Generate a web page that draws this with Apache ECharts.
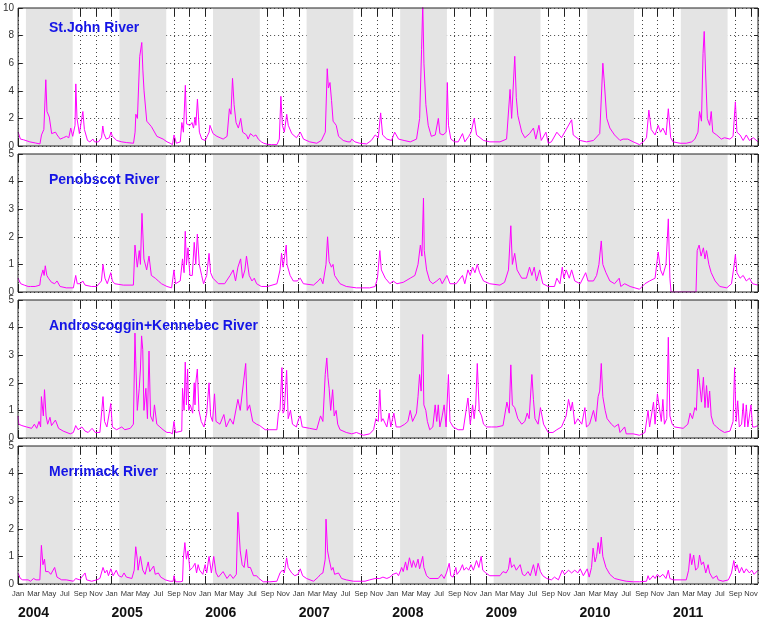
<!DOCTYPE html>
<html><head><meta charset="utf-8">
<script src="https://cdn.jsdelivr.net/npm/echarts@6/dist/echarts.min.js"></script>
<style>html,body{margin:0;padding:0;background:#fff}#c{width:764px;height:622px}</style>
</head><body><div id="c"></div>
<script>
// x values: months since 1 Jan 2004
const monthNames = ['Jan','Feb','Mar','Apr','May','Jun','Jul','Aug','Sep','Oct','Nov','Dec'];
const startYear = 2004;
const yearCount = 8;
const xMaxMonth = 94.9;
const riverNames = ['St.John River','Penobscot River','Androscoggin+Kennebec River','Merrimack River'];
const yMax = [10,5,5,5];
const yStep = [2,1,1,1];
const seasonStartMonth = 1; // Feb
const seasonEndMonth = 7;   // Aug

const stJohn = [[0,1.0],[0.3,0.5],[0.7,0.45],[1.5,0.3],[2.2,0.22],[2.8,0.15],[3.0,0.8],[3.3,1.2],[3.55,4.8],[3.7,2.5],[4.0,2.1],[4.3,0.9],[4.5,0.85],[4.8,1.0],[5.0,0.8],[5.2,0.9],[5.4,0.5],[5.8,0.6],[6.2,0.7],[6.5,0.6],[6.75,1.3],[7.0,0.7],[7.3,1.5],[7.4,4.5],[7.55,2.0],[7.86,0.9],[8.0,1.0],[8.3,2.5],[8.5,1.2],[8.9,0.4],[9.2,0.3],[9.6,0.5],[9.8,0.3],[10.3,0.3],[10.7,0.6],[10.86,1.45],[11.0,0.9],[11.3,0.5],[11.7,0.6],[11.9,1.0],[12.1,0.7],[12.65,0.4],[13.3,0.3],[13.9,0.25],[14.8,0.2],[15.0,1.0],[15.1,2.3],[15.3,2.0],[15.6,6.5],[15.86,7.5],[16.0,5.5],[16.15,4.0],[16.5,1.8],[17.1,1.4],[17.8,0.7],[18.0,0.8],[18.2,0.6],[18.6,0.5],[19.1,0.3],[19.5,0.2],[19.8,0.1],[20.0,0.8],[20.3,0.2],[20.8,0.3],[21.0,1.7],[21.2,1.0],[21.45,4.4],[21.6,1.6],[22.05,1.5],[22.3,1.7],[22.5,1.3],[22.7,2.1],[22.8,1.5],[23.0,3.4],[23.25,1.0],[23.55,0.5],[24.0,0.4],[24.5,1.0],[24.6,1.5],[25.0,0.9],[25.5,0.7],[25.9,0.6],[26.3,0.5],[26.8,0.7],[27.1,2.7],[27.3,2.3],[27.5,4.9],[27.7,3.0],[27.95,1.7],[28.25,1.3],[28.55,2.0],[28.8,1.0],[29.3,0.8],[29.5,0.5],[29.8,0.9],[30.2,0.7],[30.5,0.8],[30.8,0.5],[31.2,0.3],[31.5,0.2],[32.0,0.12],[32.5,0.1],[33.2,0.1],[33.5,0.5],[33.7,3.6],[33.9,1.5],[34.15,1.0],[34.45,2.3],[34.65,1.5],[35.1,0.9],[35.7,0.6],[36.2,1.0],[36.6,0.5],[37.4,0.3],[38.3,0.2],[38.9,0.4],[39.4,1.0],[39.65,5.6],[39.8,4.2],[40.0,4.6],[40.2,3.3],[40.4,1.8],[40.8,1.5],[41.1,0.7],[41.7,0.4],[42.3,0.3],[42.6,0.3],[42.8,0.5],[43.2,0.3],[43.8,0.2],[44.7,0.15],[45.3,0.4],[45.8,0.8],[46.2,0.6],[46.5,2.4],[46.75,0.8],[47.3,0.5],[47.9,0.4],[48.3,1.0],[48.8,0.5],[49.5,0.4],[50.3,0.3],[51.1,0.5],[51.5,2.0],[51.75,7.0],[51.9,10.3],[52.05,6.0],[52.3,3.0],[52.6,1.5],[53.0,0.7],[53.5,0.8],[53.9,2.0],[54.1,0.9],[54.5,0.8],[54.9,1.0],[55.05,4.6],[55.2,1.5],[55.5,0.5],[56.0,0.3],[56.45,0.3],[57.0,0.9],[57.3,0.3],[57.8,0.7],[58.1,1.0],[58.5,2.0],[58.8,0.8],[59.7,0.4],[60.5,0.3],[61.8,0.3],[62.65,0.5],[63.1,4.1],[63.3,2.0],[63.7,6.5],[63.9,3.5],[64.1,2.2],[64.6,1.0],[65.0,0.6],[65.6,0.9],[66.1,1.3],[66.4,0.5],[66.8,1.5],[67.1,0.4],[67.7,1.0],[68.0,0.2],[68.4,0.3],[69.1,1.0],[69.7,0.6],[70.1,1.0],[71.0,1.9],[71.2,0.8],[72.1,0.4],[72.9,0.3],[73.8,0.4],[74.6,0.9],[75.0,6.0],[75.2,4.5],[75.5,2.0],[75.9,1.3],[76.5,0.8],[77.2,0.4],[77.6,0.5],[78.2,0.5],[78.9,0.3],[79.7,0.1],[80.2,0.3],[80.6,0.6],[80.9,2.6],[81.2,1.2],[81.7,0.8],[82.1,1.5],[82.4,1.0],[82.7,1.3],[83.1,0.8],[83.4,2.7],[83.7,0.6],[84.0,0.3],[84.9,0.2],[85.7,0.2],[86.4,0.3],[86.8,0.5],[87.2,1.0],[87.4,2.5],[87.65,1.8],[87.85,6.7],[88.0,8.3],[88.2,5.0],[88.4,2.0],[88.7,1.5],[88.9,2.5],[89.1,1.0],[89.6,0.8],[90.2,0.5],[90.6,0.6],[91.3,0.5],[91.7,0.7],[92.0,3.2],[92.2,1.0],[92.6,0.8],[93.0,0.4],[93.4,0.8],[93.8,0.4],[94.3,0.6],[94.9,0.3]];

const penobscot = [[0,0.5],[0.35,0.3],[0.8,0.25],[1.3,0.2],[1.6,0.2],[2.2,0.2],[2.8,0.25],[2.9,0.5],[3.2,0.8],[3.35,0.6],[3.5,0.95],[3.7,0.6],[3.9,0.5],[4.3,0.35],[4.7,0.3],[5.0,0.4],[5.4,0.2],[6.2,0.15],[7.1,0.15],[7.4,0.6],[7.6,0.3],[8.0,0.3],[8.3,0.4],[8.6,0.25],[9.4,0.2],[10.1,0.2],[10.7,0.4],[10.9,1.0],[11.15,0.5],[11.45,0.3],[11.9,0.7],[12.1,0.4],[12.4,0.3],[13.5,0.25],[14.8,0.25],[15.0,1.7],[15.3,0.9],[15.55,1.5],[15.7,1.0],[15.9,2.85],[16.15,1.2],[16.5,0.8],[16.8,1.3],[17.1,0.6],[17.6,0.5],[18.0,0.4],[18.4,0.3],[19.1,0.2],[19.7,0.15],[20.0,0.8],[20.2,0.3],[20.8,0.4],[21.1,1.2],[21.3,0.7],[21.45,2.2],[21.6,1.0],[21.8,1.6],[22.05,0.6],[22.35,0.6],[22.6,1.8],[22.8,1.0],[23.0,2.1],[23.25,1.0],[23.55,0.6],[23.8,0.3],[24.2,0.6],[24.5,1.4],[24.7,0.7],[25.0,0.5],[25.7,0.3],[26.5,0.3],[27.2,0.6],[27.6,0.8],[27.9,0.4],[28.2,0.9],[28.55,1.2],[28.8,0.5],[29.1,0.8],[29.3,1.3],[29.65,0.6],[30.0,0.4],[30.3,0.5],[30.6,0.3],[31.2,0.2],[32.0,0.2],[33.2,0.3],[33.6,0.8],[33.8,1.4],[34.0,0.9],[34.4,1.7],[34.5,1.0],[34.9,0.6],[35.3,0.4],[35.8,0.4],[36.2,0.5],[36.6,0.3],[37.9,0.25],[38.5,0.4],[38.8,0.5],[39.1,0.3],[39.5,1.0],[39.7,2.0],[39.9,1.1],[40.2,0.9],[40.4,1.0],[40.6,0.6],[41.3,0.3],[42.1,0.2],[43.4,0.15],[45.1,0.15],[45.8,0.2],[46.1,0.5],[46.4,1.5],[46.6,0.8],[47.1,0.5],[47.7,0.3],[48.1,0.4],[48.6,0.3],[49.4,0.35],[50.3,0.5],[50.9,0.6],[51.3,1.0],[51.6,1.7],[51.8,1.3],[52.0,3.4],[52.1,1.5],[52.4,0.8],[52.8,0.4],[53.2,0.3],[53.7,0.4],[54.1,0.5],[54.4,0.3],[55.0,0.6],[55.4,0.3],[56.2,0.3],[57.0,0.6],[57.3,0.3],[57.7,0.8],[58.0,0.6],[58.3,0.9],[58.6,0.7],[58.9,1.0],[59.2,0.7],[59.7,0.4],[60.5,0.3],[61.8,0.25],[62.4,0.35],[62.9,0.8],[63.2,2.4],[63.4,1.0],[63.7,1.4],[64.0,0.8],[64.6,0.5],[65.2,0.5],[65.6,0.9],[65.9,0.6],[66.2,0.9],[66.5,0.4],[66.9,0.8],[67.3,0.3],[68.0,0.2],[68.8,0.2],[69.1,0.5],[69.5,0.3],[69.8,0.9],[70.0,0.5],[70.3,0.8],[70.7,0.5],[71.0,0.8],[71.4,0.4],[72.1,0.3],[72.8,0.7],[73.1,0.4],[73.8,0.4],[74.2,0.6],[74.5,1.0],[74.8,1.85],[75.0,1.0],[75.4,0.7],[75.9,0.4],[76.5,0.3],[77.1,0.5],[77.3,0.2],[77.8,0.3],[78.5,0.2],[79.7,0.1],[80.4,0.3],[81.0,0.4],[81.7,0.5],[82.1,1.45],[82.4,0.8],[82.7,0.6],[83.1,1.0],[83.4,2.65],[83.6,0.5],[83.75,0],[86.95,0],[87.1,1.5],[87.35,1.7],[87.6,1.3],[87.9,1.6],[88.1,1.2],[88.3,1.5],[88.6,1.0],[88.9,0.7],[89.4,0.4],[90.0,0.2],[90.9,0.15],[91.5,0.3],[91.8,0.9],[92.0,1.35],[92.2,0.7],[92.6,0.5],[93.0,0.6],[93.4,0.4],[93.8,0.5],[94.2,0.3],[94.9,0.25]];

const androKennebec = [[0,0.8],[0.1,0.5],[0.5,0.45],[1.1,0.4],[1.75,0.35],[2.1,0.5],[2.4,0.35],[2.7,0.6],[2.9,0.4],[3.0,1.5],[3.25,0.8],[3.4,1.75],[3.6,0.8],[3.8,0.5],[4.1,0.75],[4.3,0.45],[4.5,0.4],[4.8,0.65],[5.2,0.35],[5.8,0.25],[6.7,0.15],[7.1,0.2],[7.4,0.45],[7.7,0.3],[8.2,0.4],[8.6,0.25],[9.0,0.2],[9.5,0.35],[9.9,0.2],[10.5,0.2],[10.9,1.5],[11.1,0.6],[11.4,0.4],[11.7,0.9],[11.9,1.25],[12.1,0.4],[12.65,0.3],[13.3,0.4],[13.7,0.3],[14.4,0.35],[14.8,0.5],[15.0,3.8],[15.1,2.8],[15.3,1.0],[15.55,1.8],[15.7,2.5],[15.85,3.7],[16.0,3.2],[16.15,1.0],[16.4,1.8],[16.6,0.7],[16.8,3.15],[17.0,0.8],[17.3,0.6],[17.5,1.2],[17.8,0.5],[18.2,0.4],[18.6,0.3],[19.1,0.2],[19.5,0.2],[19.8,0.15],[20.0,0.6],[20.2,0.2],[21.0,0.25],[21.1,1.8],[21.3,1.0],[21.45,2.75],[21.6,1.2],[21.75,2.5],[21.9,1.0],[22.1,1.2],[22.4,0.9],[22.6,2.0],[22.7,1.2],[22.8,2.0],[23.0,2.5],[23.2,1.0],[23.5,0.6],[23.85,0.4],[24.2,0.9],[24.5,2.0],[24.7,0.8],[24.95,0.6],[25.2,1.6],[25.4,0.6],[25.9,0.5],[26.4,0.85],[26.7,0.4],[27.2,0.7],[27.6,0.5],[28.2,1.4],[28.5,1.0],[28.7,1.0],[29.2,2.7],[29.4,1.0],[29.7,1.2],[30.1,0.6],[30.6,0.5],[31.0,0.45],[31.7,0.3],[32.3,0.3],[33.2,0.3],[33.4,0.9],[33.6,1.0],[33.85,2.55],[34.0,0.9],[34.15,1.0],[34.45,2.45],[34.65,0.7],[34.95,1.0],[35.2,0.5],[35.7,0.4],[36.0,0.7],[36.2,0.8],[36.45,0.4],[37.4,0.35],[38.3,0.3],[38.8,0.8],[39.1,0.6],[39.4,2.3],[39.6,2.9],[39.75,2.2],[39.9,1.8],[40.1,1.0],[40.35,1.75],[40.55,0.8],[40.8,1.0],[41.0,0.5],[41.3,0.3],[42.1,0.2],[42.8,0.15],[43.4,0.2],[44.3,0.1],[45.1,0.15],[45.6,0.3],[45.9,0.7],[46.2,0.6],[46.4,1.75],[46.6,0.6],[46.8,0.7],[47.3,0.4],[47.6,0.9],[47.8,0.4],[48.2,0.9],[48.5,0.4],[49.0,0.4],[49.6,0.5],[50.0,0.6],[50.3,1.0],[50.6,0.6],[51.1,0.9],[51.3,1.5],[51.5,2.3],[51.7,1.7],[51.9,3.75],[52.05,1.2],[52.3,1.0],[52.5,0.6],[52.8,0.3],[53.2,0.4],[53.5,1.2],[53.7,0.6],[53.9,1.2],[54.1,0.4],[54.4,0.8],[54.65,1.2],[54.9,0.4],[55.2,2.3],[55.4,0.6],[55.8,0.4],[56.45,0.3],[57.1,0.3],[57.7,1.45],[58.0,0.5],[58.3,1.2],[58.5,0.7],[58.7,1.2],[58.9,2.7],[59.15,1.0],[59.45,0.8],[59.7,0.5],[60.1,0.4],[60.7,0.4],[61.4,0.4],[62.2,0.45],[62.7,1.3],[63.0,0.9],[63.2,2.65],[63.4,1.2],[63.7,1.1],[64.1,0.7],[64.6,0.5],[65.0,0.6],[65.3,0.9],[65.55,0.7],[65.9,2.3],[66.1,1.4],[66.3,0.7],[66.7,0.5],[67.0,1.1],[67.4,0.5],[68.0,0.2],[68.6,0.2],[69.1,0.3],[69.7,0.4],[70.3,0.8],[70.6,1.4],[70.9,1.0],[71.1,1.3],[71.4,0.5],[71.8,0.7],[72.3,0.5],[72.7,1.1],[72.9,0.4],[73.3,0.5],[73.8,1.0],[74.1,0.6],[74.4,1.5],[74.6,1.7],[74.8,2.7],[75.0,1.5],[75.3,1.0],[75.55,0.7],[76.1,0.5],[76.5,0.4],[77.0,0.5],[77.2,0.2],[77.8,0.4],[78.0,0.15],[78.9,0.15],[79.7,0.1],[80.4,0.2],[80.8,1.0],[81.0,0.4],[81.5,1.3],[81.7,0.5],[82.0,1.6],[82.2,1.2],[82.5,0.6],[82.7,1.4],[82.9,0.5],[83.2,0.7],[83.4,3.65],[83.6,0.8],[83.9,0.5],[84.2,0.4],[85.3,0.35],[85.9,0.5],[86.2,0.9],[86.5,0.7],[86.8,1.1],[87.0,1.0],[87.2,2.5],[87.4,2.0],[87.65,1.3],[87.9,2.2],[88.1,1.1],[88.3,1.9],[88.5,1.1],[88.7,1.7],[88.9,0.8],[89.2,0.5],[89.6,0.4],[90.0,0.3],[90.6,0.2],[91.3,0.25],[91.7,0.6],[91.9,2.55],[92.1,0.6],[92.3,1.35],[92.5,0.4],[92.8,0.5],[93.0,1.25],[93.2,0.4],[93.4,1.2],[93.6,0.4],[94.0,1.2],[94.2,0.4],[94.5,0.4],[94.9,0.45]];

const merrimack = [[0,0.4],[0.3,0.2],[0.6,0.15],[1.3,0.15],[1.6,0.1],[2.0,0.2],[2.3,0.15],[2.8,0.15],[3.0,1.4],[3.2,0.7],[3.4,0.9],[3.55,0.45],[3.9,0.45],[4.2,0.35],[4.45,0.3],[4.7,0.6],[5.0,0.25],[5.6,0.15],[6.2,0.15],[7.1,0.1],[7.4,0.2],[7.9,0.15],[8.6,0.4],[8.8,0.15],[9.45,0.1],[10.1,0.15],[10.5,0.2],[10.9,0.6],[11.15,0.4],[11.4,0.5],[11.6,0.3],[11.9,0.55],[12.2,0.3],[12.6,0.5],[12.9,0.3],[13.3,0.25],[13.6,0.4],[13.9,0.25],[14.6,0.2],[14.9,0.5],[15.1,1.35],[15.3,0.9],[15.4,0.5],[15.7,1.0],[16.0,0.5],[16.3,0.35],[16.7,0.8],[16.9,0.45],[17.4,0.65],[17.6,0.35],[18.0,0.4],[18.3,0.25],[18.9,0.15],[19.5,0.1],[19.9,0.1],[20.0,0.3],[20.2,0.08],[20.8,0.08],[21.1,0.1],[21.2,0.9],[21.4,1.5],[21.6,0.9],[21.8,1.2],[22.05,0.5],[22.4,0.6],[22.7,0.75],[22.9,0.4],[23.1,0.7],[23.3,0.5],[23.7,0.35],[24.0,0.7],[24.2,0.4],[24.5,1.0],[24.8,0.4],[25.1,1.0],[25.4,0.4],[25.7,0.25],[26.3,0.45],[26.8,0.2],[27.2,0.35],[27.6,0.2],[28.0,0.35],[28.2,2.6],[28.5,1.2],[28.75,0.7],[29.0,0.6],[29.3,1.25],[29.5,0.6],[29.8,0.6],[30.2,0.3],[30.6,0.3],[30.9,0.2],[31.45,0.08],[32.3,0.08],[33.2,0.1],[33.6,0.4],[33.9,0.5],[34.15,0.4],[34.45,0.95],[34.65,0.6],[35.1,0.4],[35.5,0.3],[35.9,0.35],[36.2,0.55],[36.5,0.3],[37.0,0.2],[37.9,0.1],[38.5,0.25],[38.8,0.35],[39.1,0.4],[39.4,0.9],[39.5,2.35],[39.7,1.2],[39.9,0.9],[40.2,0.5],[40.4,0.6],[40.6,0.35],[41.1,0.4],[41.5,0.2],[42.1,0.15],[43.0,0.1],[44.5,0.1],[45.1,0.15],[45.8,0.2],[46.4,0.2],[46.8,0.25],[47.3,0.2],[47.7,0.25],[48.1,0.35],[48.55,0.4],[48.8,0.3],[49.2,0.6],[49.4,0.45],[49.7,0.8],[49.9,0.5],[50.2,0.95],[50.5,0.6],[50.7,0.85],[51.0,0.6],[51.3,0.9],[51.5,0.55],[51.9,1.0],[52.05,0.6],[52.4,0.3],[52.8,0.2],[53.9,0.2],[54.3,0.35],[54.65,0.2],[54.95,0.4],[55.3,0.75],[55.5,0.3],[55.8,0.25],[56.15,0.6],[56.3,0.35],[56.7,0.5],[57.0,0.7],[57.2,0.5],[57.5,0.6],[57.8,0.5],[58.1,0.7],[58.4,0.5],[58.8,0.85],[59.1,0.6],[59.4,1.0],[59.6,0.5],[60.0,0.4],[60.5,0.3],[61.8,0.3],[62.2,0.45],[62.6,0.4],[62.9,0.55],[63.1,0.95],[63.3,0.6],[63.6,0.7],[63.9,0.5],[64.4,0.7],[64.7,0.35],[65.0,0.3],[65.4,0.45],[65.7,0.3],[66.1,0.7],[66.4,0.3],[66.7,0.75],[67.0,0.45],[67.3,0.3],[67.8,0.2],[68.4,0.15],[68.8,0.25],[69.3,0.15],[69.8,0.5],[70.1,0.35],[70.6,0.5],[71.0,0.4],[71.4,0.5],[71.8,0.4],[72.1,0.55],[72.5,0.3],[73.0,0.55],[73.25,0.25],[73.55,0.6],[73.75,1.3],[74.0,0.8],[74.2,1.0],[74.4,1.5],[74.6,1.1],[74.8,1.7],[75.0,1.0],[75.4,0.6],[75.9,0.35],[76.5,0.2],[77.2,0.15],[78.0,0.1],[78.9,0.08],[79.7,0.08],[80.6,0.1],[80.8,0.3],[81.0,0.15],[81.45,0.3],[81.7,0.2],[82.0,0.35],[82.3,0.25],[82.7,0.35],[83.1,0.2],[83.4,0.5],[83.6,0.2],[84.0,0.15],[84.9,0.15],[85.7,0.15],[86.0,0.5],[86.2,1.1],[86.4,0.7],[86.65,1.05],[86.9,0.5],[87.2,0.6],[87.4,1.05],[87.65,0.7],[87.9,0.8],[88.2,0.4],[88.5,0.7],[88.7,0.4],[89.1,0.2],[89.6,0.3],[89.8,0.15],[90.4,0.1],[91.1,0.15],[91.5,0.4],[91.8,0.85],[92.0,0.5],[92.2,0.7],[92.5,0.4],[92.8,0.6],[93.1,0.4],[93.4,0.55],[93.8,0.4],[94.1,0.5],[94.4,0.35],[94.9,0.5]];

const rivers = [stJohn, penobscot, androKennebec, merrimack];

// layout
const panelTop = 8, panelH = 138, panelStep = 146;
const titleTops = [21, 173, 319, 465];
const FONT = "'Liberation Sans', Arial, Helvetica, sans-serif";

const chart = echarts.init(document.getElementById('c'), null, {renderer: 'canvas'});
const bandData = [];
for (let y = 0; y < yearCount; y++) {
  bandData.push([{xAxis: y * 12 + seasonStartMonth}, {xAxis: y * 12 + seasonEndMonth}]);
}
const dotted = {color: '#444', width: 1, type: [1, 3]};
const tickStyle = {color: '#222', width: 1};
const grids = [], xAxes = [], yAxes = [], series = [], titles = [];
for (let i = 0; i < 4; i++) {
  const last = i === 3;
  grids.push({left: 18, right: 6, top: panelTop + i * panelStep, height: panelH,
    show: true, borderColor: '#222', borderWidth: 1, backgroundColor: 'transparent', z: 20});
  xAxes.push({type: 'value', gridIndex: i, position: 'bottom', min: 0, max: xMaxMonth, interval: 2,
    axisLine: {show: false, onZero: false},
    axisTick: {show: true, inside: true, length: 8, lineStyle: tickStyle},
    splitLine: {show: true, lineStyle: dotted},
    axisLabel: {show: last, showMaxLabel: false, margin: 6, fontSize: 7.5, color: '#333', fontFamily: FONT,
      formatter: v => monthNames[Math.round(v) % 12]}});
  xAxes.push({type: 'value', gridIndex: i, position: 'top', min: 0, max: xMaxMonth, interval: 2,
    axisLine: {show: false, onZero: false},
    axisTick: {show: true, inside: true, length: 8, lineStyle: tickStyle},
    splitLine: {show: false}, axisLabel: {show: false}});
  yAxes.push({type: 'value', gridIndex: i, position: 'left', min: 0, max: yMax[i], interval: yStep[i],
    axisLine: {show: false, onZero: false},
    axisTick: {show: true, inside: true, length: 4, lineStyle: tickStyle},
    splitLine: {show: true, lineStyle: dotted},
    axisLabel: {margin: 4, fontSize: 10, color: '#333', fontFamily: FONT}});
  yAxes.push({type: 'value', gridIndex: i, position: 'right', min: 0, max: yMax[i], interval: yStep[i],
    axisLine: {show: false, onZero: false},
    axisTick: {show: true, inside: true, length: 4, lineStyle: tickStyle},
    splitLine: {show: false}, axisLabel: {show: false}});
  series.push({type: 'line', name: riverNames[i], xAxisIndex: 2 * i, yAxisIndex: 2 * i, data: rivers[i],
    showSymbol: false, symbol: 'none', clip: true,
    lineStyle: {color: '#ff00ff', width: 1}, itemStyle: {color: '#ff00ff'},
    markArea: {silent: true, itemStyle: {color: '#e4e4e4'}, data: bandData}});
  titles.push({text: riverNames[i], left: 49, top: titleTops[i], padding: 0,
    textStyle: {fontSize: 14, fontWeight: 'bold', color: '#1414e6', fontFamily: FONT}});
}
// year labels under the last panel
xAxes.push({type: 'value', gridIndex: 3, position: 'bottom', min: 0, max: xMaxMonth, interval: 12,
  axisLine: {show: false, onZero: false}, axisTick: {show: false}, splitLine: {show: false},
  axisLabel: {margin: 22, align: 'left', showMaxLabel: false, fontSize: 14, fontWeight: 'bold', color: '#111', fontFamily: FONT,
    formatter: v => (Math.abs(v % 12) < 1e-6 ? String(startYear + Math.round(v / 12)) : '')}});

chart.setOption({
  animation: false,
  backgroundColor: '#fff',
  textStyle: {fontFamily: FONT},
  title: titles,
  grid: grids,
  xAxis: xAxes,
  yAxis: yAxes,
  series: series
});
</script>
</body></html>
